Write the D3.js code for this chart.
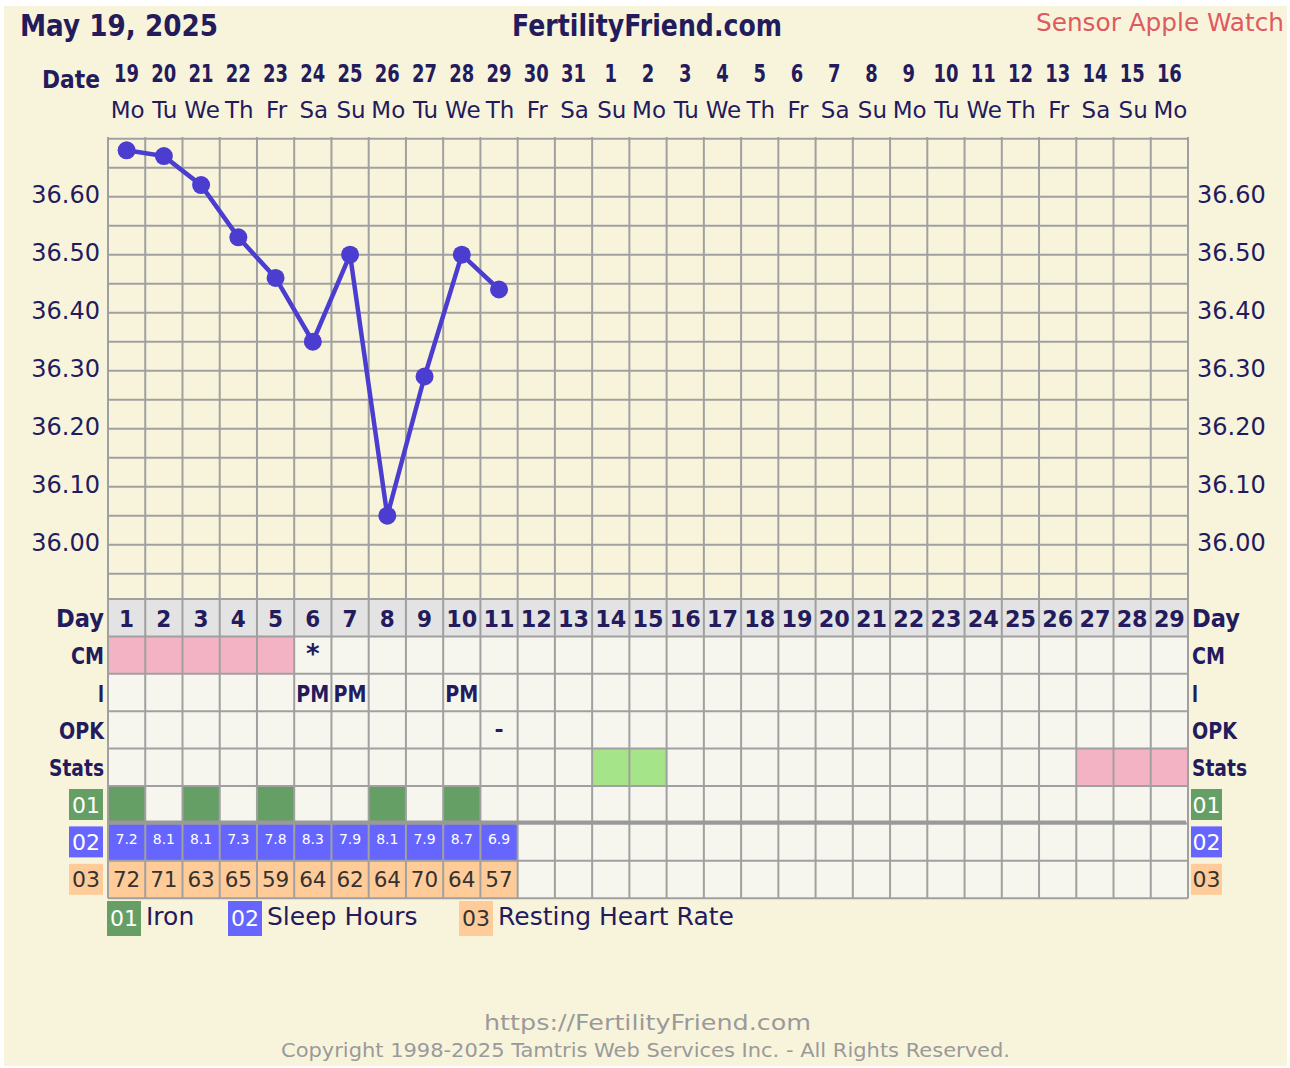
<!DOCTYPE html>
<html>
<head>
<meta charset="utf-8">
<script src="https://cdn.jsdelivr.net/npm/d3@7"></script>
<style>
  body { margin: 0; background: #fff; }
  svg { display: block; }
  .reg { font-family: "DejaVu Sans", Verdana, sans-serif; }
  .boldw { font-family: "DejaVu Sans", sans-serif; font-weight: bold; }
</style>
</head>
<body>
<div id="chart"></div>
<script>
// chart data
const dates = [19, 20, 21, 22, 23, 24, 25, 26, 27, 28, 29, 30, 31, 1, 2, 3, 4, 5, 6, 7, 8, 9, 10, 11, 12, 13, 14, 15, 16];
const weekdays = ["Mo", "Tu", "We", "Th", "Fr", "Sa", "Su", "Mo", "Tu", "We", "Th", "Fr", "Sa", "Su", "Mo",
  "Tu", "We", "Th", "Fr", "Sa", "Su", "Mo", "Tu", "We", "Th", "Fr", "Sa", "Su", "Mo"];
const cycleDays = d3.range(1, 30);
const temps = [36.68, 36.67, 36.62, 36.53, 36.46, 36.35, 36.50, 36.05, 36.29, 36.50, 36.44];
const yTicks = [36.00, 36.10, 36.20, 36.30, 36.40, 36.50, 36.60];
const cmPinkDays = [1, 2, 3, 4, 5];
const cmMarks = [{ day: 6, text: "*" }];
const intercourseDays = [6, 7, 10];
const opkMarks = [{ day: 11, text: "-" }];
const statsGreenDays = [14, 15];
const statsPinkDays = [27, 28, 29];
const ironDays = [1, 3, 5, 8, 10];
const sleepHours = [7.2, 8.1, 8.1, 7.3, 7.8, 8.3, 7.9, 8.1, 7.9, 8.7, 6.9];
const heartRate = [72, 71, 63, 65, 59, 64, 62, 64, 70, 64, 57];
const rowLabels = ["Day", "CM", "I", "OPK", "Stats"];
const rowLabelWidths = [48, 33, 6, 45, 55];
const legendItems = [
  { code: "01", label: "Iron", fill: "#659f65", text: "#fff" },
  { code: "02", label: "Sleep Hours", fill: "#6666ff", text: "#fff" },
  { code: "03", label: "Resting Heart Rate", fill: "#ffcc99", text: "#333" }
];

const W = 1290, H = 1068;
const navy = "#231b5c";
const gridColor = "#a0a0a0";

const svg = d3.select("#chart").append("svg")
  .attr("width", W).attr("height", H);

svg.append("rect")
  .attr("x", 4).attr("y", 6).attr("width", 1283).attr("height", 1060)
  .attr("fill", "#f8f4dc");

const x = d3.scaleBand().domain(cycleDays).range([108, 1188]).padding(0);
const y = d3.scaleLinear().domain([36.00, 36.60]).range([544.7, 196.7]);
const chartTop = 137, chartBottom = 599;

// header
svg.append("text").attr("class", "boldw")
  .attr("x", 20).attr("y", 36).attr("font-size", 30).attr("fill", navy)
  .attr("textLength", 198).attr("lengthAdjust", "spacingAndGlyphs")
  .text("May 19, 2025");

svg.append("text").attr("class", "boldw")
  .attr("x", 512).attr("y", 36).attr("font-size", 30).attr("fill", navy)
  .attr("textLength", 270).attr("lengthAdjust", "spacingAndGlyphs")
  .text("FertilityFriend.com");

svg.append("text").attr("class", "reg")
  .attr("x", 1284).attr("y", 31).attr("font-size", 24).attr("fill", "#df5a5e")
  .attr("text-anchor", "end")
  .attr("textLength", 248).attr("lengthAdjust", "spacingAndGlyphs")
  .text("Sensor Apple Watch");

svg.append("text").attr("class", "boldw")
  .attr("x", 100).attr("y", 88).attr("font-size", 25).attr("fill", navy)
  .attr("text-anchor", "end")
  .attr("textLength", 58).attr("lengthAdjust", "spacingAndGlyphs")
  .text("Date");

svg.append("g").selectAll("text")
  .data(dates)
  .join("text")
  .attr("class", "boldw")
  .attr("x", (d, i) => x(cycleDays[i]) + x.bandwidth() / 2)
  .attr("y", 82)
  .attr("font-size", 25)
  .attr("fill", navy)
  .attr("text-anchor", "middle")
  .attr("textLength", d => d >= 10 ? 25 : 12.5)
  .attr("lengthAdjust", "spacingAndGlyphs")
  .text(d => d);

svg.append("g").selectAll("text")
  .data(weekdays)
  .join("text")
  .attr("class", "reg")
  .attr("x", (d, i) => x(cycleDays[i]) + x.bandwidth() / 2 + 1)
  .attr("y", 118)
  .attr("font-size", 23)
  .attr("fill", navy)
  .attr("text-anchor", "middle")
  .text(d => d);

// temperature grid
const grid = svg.append("g");
const hLines = d3.range(0, 16).map(i => 36.70 - i * 0.05);
grid.selectAll("line.h")
  .data(hLines)
  .join("line")
  .attr("x1", 108).attr("x2", 1188)
  .attr("y1", d => y(d)).attr("y2", d => y(d))
  .attr("stroke", gridColor).attr("stroke-width", 2);

grid.selectAll("line.v")
  .data(d3.range(0, 30))
  .join("line")
  .attr("x1", i => 108 + i * x.bandwidth()).attr("x2", i => 108 + i * x.bandwidth())
  .attr("y1", chartTop).attr("y2", chartBottom)
  .attr("stroke", gridColor).attr("stroke-width", 2);

// y axis labels, both sides
[{ xPos: 100, anchor: "end" }, { xPos: 1197, anchor: "start" }].forEach(side => {
  svg.append("g").selectAll("text")
    .data(yTicks)
    .join("text")
    .attr("class", "reg")
    .attr("x", side.xPos)
    .attr("y", d => y(d) + 6.6)
    .attr("font-size", 24)
    .attr("fill", navy)
    .attr("text-anchor", side.anchor)
    .text(d => d.toFixed(2));
});

// temperature line
const tempPoints = temps.map((t, i) => ({ day: cycleDays[i], t: t }));
const line = d3.line()
  .x(d => x(d.day) + x.bandwidth() / 2)
  .y(d => y(d.t));

svg.append("path")
  .datum(tempPoints)
  .attr("d", line)
  .attr("fill", "none")
  .attr("stroke", "#4a3dcf")
  .attr("stroke-width", 4.5);

svg.append("g").selectAll("circle")
  .data(tempPoints)
  .join("circle")
  .attr("cx", d => x(d.day) + x.bandwidth() / 2)
  .attr("cy", d => y(d.t))
  .attr("r", 9)
  .attr("fill", "#4a3dcf");

// lower table
const rowTop = 599, rowH = 37.4;
const rowY = i => rowTop + i * rowH;
const nRows = 8;
const cw = x.bandwidth();
const cx = d => x(d) + cw / 2;

const table = svg.append("g");
table.selectAll("rect.base")
  .data(d3.cross(d3.range(nRows), cycleDays))
  .join("rect")
  .attr("x", d => x(d[1])).attr("y", d => rowY(d[0]))
  .attr("width", cw).attr("height", rowH)
  .attr("fill", d => d[0] === 0 ? "#e3e3e3" : "#f6f6ef");

function fillCells(days, row, color) {
  table.append("g").selectAll("rect")
    .data(days)
    .join("rect")
    .attr("x", d => x(d)).attr("y", rowY(row))
    .attr("width", cw).attr("height", rowH)
    .attr("fill", color);
}
fillCells(cmPinkDays, 1, "#f4b3c5");
fillCells(statsGreenDays, 4, "#a6e48a");
fillCells(statsPinkDays, 4, "#f4b3c5");
fillCells(ironDays, 5, "#659f65");
fillCells(cycleDays.slice(0, sleepHours.length), 6, "#6666ff");
fillCells(cycleDays.slice(0, heartRate.length), 7, "#ffcc99");

// table borders
table.selectAll("line.th")
  .data(d3.range(nRows + 1))
  .join("line")
  .attr("x1", 108).attr("x2", 1188)
  .attr("y1", rowY).attr("y2", rowY)
  .attr("stroke", gridColor).attr("stroke-width", 2);
table.selectAll("line.tv")
  .data(d3.range(0, 30))
  .join("line")
  .attr("x1", i => 108 + i * cw).attr("x2", i => 108 + i * cw)
  .attr("y1", rowTop).attr("y2", rowY(nRows))
  .attr("stroke", gridColor).attr("stroke-width", 2);
table.append("line")
  .attr("x1", 108).attr("x2", 1186)
  .attr("y1", rowY(6) - 1).attr("y2", rowY(6) - 1)
  .attr("stroke", "#999").attr("stroke-width", 4);

// day numbers
table.append("g").selectAll("text")
  .data(cycleDays)
  .join("text")
  .attr("class", "boldw")
  .attr("x", d => cx(d)).attr("y", 627)
  .attr("font-size", 23).attr("fill", navy)
  .attr("text-anchor", "middle")
  .attr("textLength", d => d >= 10 ? 31 : 15)
  .attr("lengthAdjust", "spacingAndGlyphs")
  .text(d => d);

// row labels both sides
rowLabels.forEach((lab, i) => {
  const by = rowY(i) + rowH / 2 + 9;
  const fs = i === 0 ? 25 : 23;
  svg.append("text").attr("class", "boldw")
    .attr("x", 104).attr("y", by).attr("font-size", fs).attr("fill", navy)
    .attr("text-anchor", "end")
    .attr("textLength", rowLabelWidths[i]).attr("lengthAdjust", "spacingAndGlyphs")
    .text(lab);
  svg.append("text").attr("class", "boldw")
    .attr("x", 1192).attr("y", by).attr("font-size", fs).attr("fill", navy)
    .attr("textLength", rowLabelWidths[i]).attr("lengthAdjust", "spacingAndGlyphs")
    .text(lab);
});

// marks in CM, I, OPK rows
table.append("g").selectAll("text")
  .data(cmMarks)
  .join("text")
  .attr("class", "boldw")
  .attr("x", d => cx(d.day)).attr("y", rowY(1) + 27)
  .attr("font-size", 26).attr("fill", navy)
  .attr("text-anchor", "middle").text(d => d.text);

table.append("g").selectAll("text")
  .data(intercourseDays)
  .join("text")
  .attr("class", "boldw")
  .attr("x", d => cx(d)).attr("y", rowY(2) + rowH / 2 + 9)
  .attr("font-size", 23).attr("fill", navy)
  .attr("text-anchor", "middle")
  .attr("textLength", 33).attr("lengthAdjust", "spacingAndGlyphs")
  .text("PM");

table.append("g").selectAll("text")
  .data(opkMarks)
  .join("text")
  .attr("class", "boldw")
  .attr("x", d => cx(d.day)).attr("y", rowY(3) + 26)
  .attr("font-size", 22).attr("fill", navy)
  .attr("text-anchor", "middle").text(d => d.text);

// sleep and heart rate values
table.append("g").selectAll("text")
  .data(sleepHours)
  .join("text")
  .attr("class", "reg")
  .attr("x", (d, i) => cx(cycleDays[i])).attr("y", rowY(6) + 21)
  .attr("font-size", 14).attr("fill", "#fff")
  .attr("text-anchor", "middle").text(d => d.toFixed(1));

table.append("g").selectAll("text")
  .data(heartRate)
  .join("text")
  .attr("class", "reg")
  .attr("x", (d, i) => cx(cycleDays[i])).attr("y", rowY(7) + 26.5)
  .attr("font-size", 21.5).attr("fill", "#333")
  .attr("text-anchor", "middle").text(d => d);

// side code boxes
legendItems.forEach((item, i) => {
  const ry = rowY(5 + i) + 3;
  [{ bx: 69, bw: 34 }, { bx: 1191, bw: 31 }].forEach(b => {
    svg.append("rect")
      .attr("x", b.bx).attr("y", ry).attr("width", b.bw).attr("height", 31)
      .attr("fill", item.fill);
    svg.append("text").attr("class", "reg")
      .attr("x", b.bx + b.bw / 2).attr("y", ry + 23.5)
      .attr("font-size", 22).attr("fill", item.text)
      .attr("text-anchor", "middle").text(item.code);
  });
});

// bottom legend
const legendX = [107, 228, 459];
legendItems.forEach((item, i) => {
  const lx = legendX[i];
  svg.append("rect")
    .attr("x", lx).attr("y", 901).attr("width", 34).attr("height", 35)
    .attr("fill", item.fill);
  svg.append("text").attr("class", "reg")
    .attr("x", lx + 17).attr("y", 926)
    .attr("font-size", 22).attr("fill", item.text)
    .attr("text-anchor", "middle").text(item.code);
  svg.append("text").attr("class", "reg")
    .attr("x", lx + 39).attr("y", 925)
    .attr("font-size", 25).attr("fill", navy)
    .text(item.label);
});

// footer
svg.append("text").attr("class", "reg")
  .attr("x", 484).attr("y", 1030).attr("font-size", 22).attr("fill", "#9a9a9a")
  .attr("textLength", 327).attr("lengthAdjust", "spacingAndGlyphs")
  .text("https://FertilityFriend.com");
svg.append("text").attr("class", "reg")
  .attr("x", 281).attr("y", 1057).attr("font-size", 19).attr("fill", "#9a9a9a")
  .attr("textLength", 729).attr("lengthAdjust", "spacingAndGlyphs")
  .text("Copyright 1998-2025 Tamtris Web Services Inc. - All Rights Reserved.");
</script>
</body>
</html>
